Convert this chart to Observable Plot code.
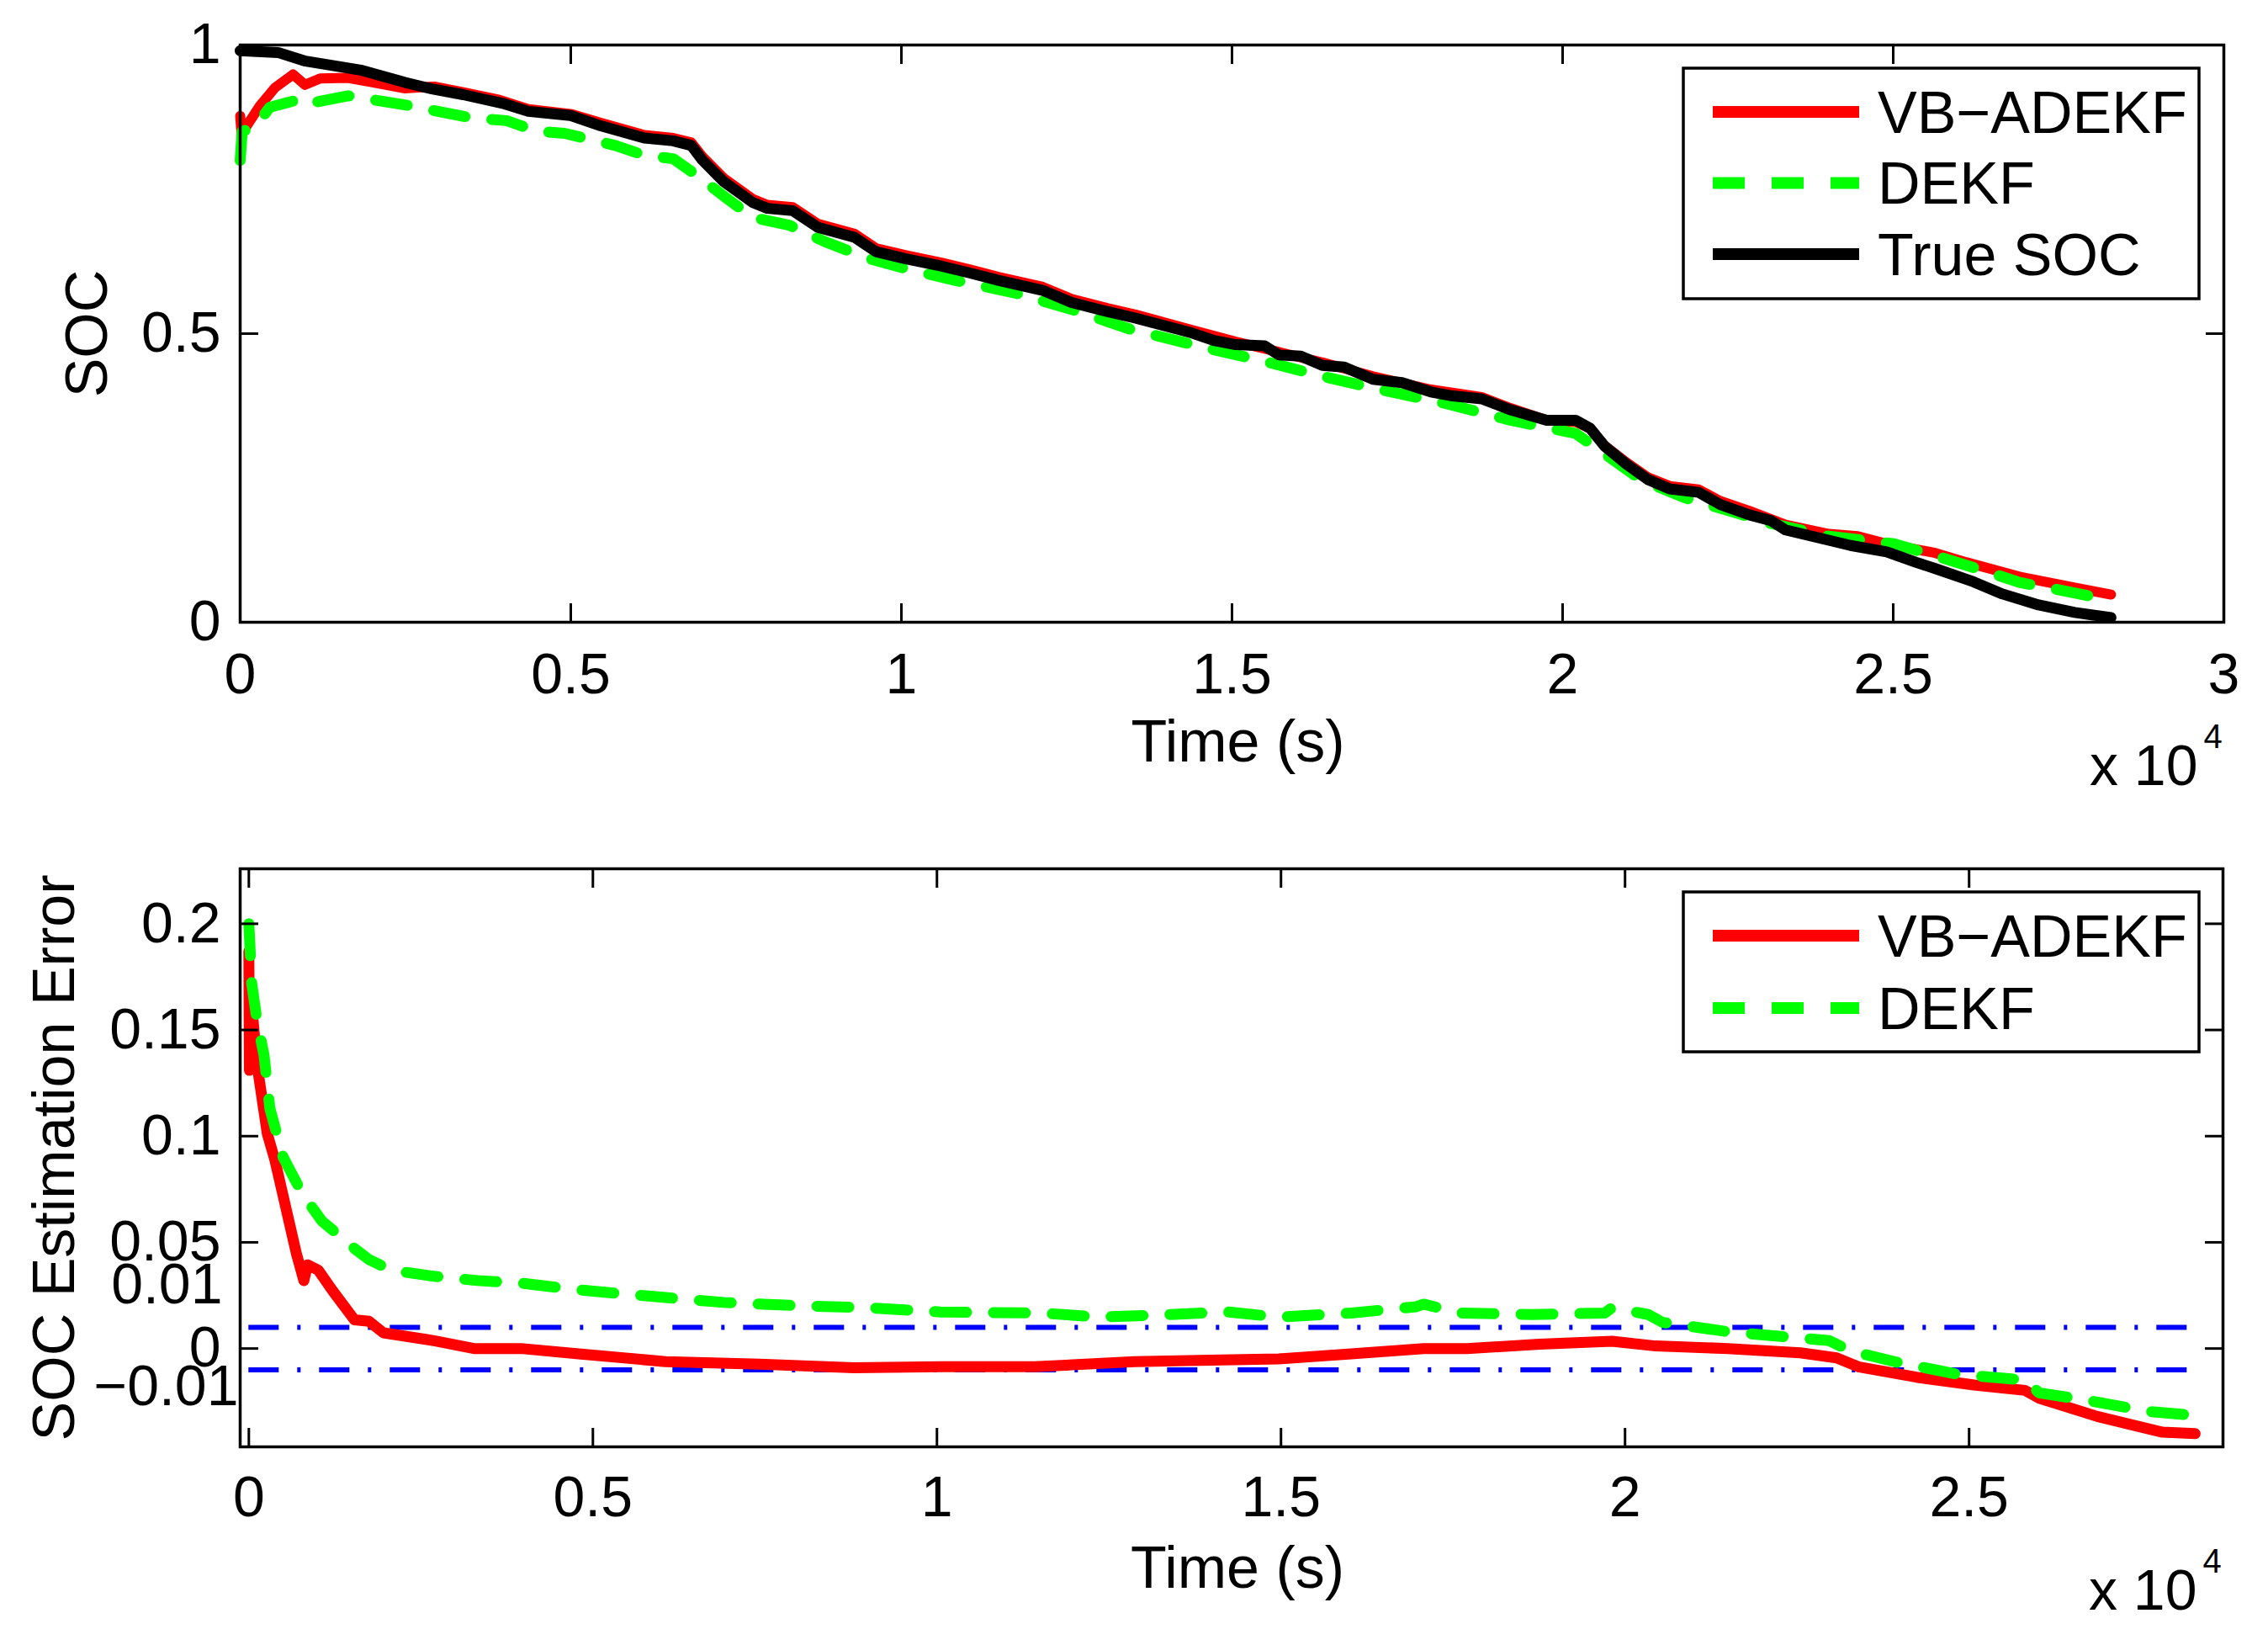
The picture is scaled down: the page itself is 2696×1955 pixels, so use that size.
<!DOCTYPE html>
<html><head><meta charset="utf-8">
<script src="https://cdn.jsdelivr.net/npm/d3@7"></script>
<script src="https://cdn.jsdelivr.net/npm/@observablehq/plot@0.6"></script>
<style>
html,body{margin:0;padding:0;background:#fff;overflow:hidden}
#c svg{display:block}
</style>
</head><body><div id="c"></div>
<script>
// ---------- data (time in s) ----------
const trueSOC = [[0,0.99],[573,0.987],[990,0.972],[1845,0.956],[2497,0.935],[2900,0.924],[3373,0.914],[3970,0.899],[4359,0.885],[4990,0.878],[5454,0.860],[6112,0.839],[6550,0.834],[6823,0.826],[6988,0.801],[7316,0.763],[7754,0.727],[7974,0.717],[8357,0.713],[8740,0.684],[9288,0.667],[9617,0.642],[10055,0.630],[10602,0.617],[11040,0.605],[11479,0.592],[12136,0.575],[12574,0.554],[13122,0.538],[13538,0.527],[14398,0.501],[14726,0.488],[15055,0.481],[15492,0.479],[15711,0.463],[16039,0.461],[16368,0.445],[16696,0.442],[17133,0.421],[17571,0.415],[18009,0.399],[18337,0.392],[18775,0.387],[19212,0.368],[19759,0.350],[20197,0.350],[20416,0.336],[20635,0.305],[20963,0.274],[21291,0.247],[21619,0.231],[22057,0.225],[22385,0.204],[22823,0.186],[23151,0.176],[23370,0.160],[23917,0.145],[24354,0.133],[24902,0.122],[25339,0.104],[25636,0.093],[26214,0.070],[26652,0.049],[27199,0.030],[27746,0.017],[28293,0.008]];

const vbSOC = [[0,0.877],[20,0.848],[100,0.860],[300,0.895],[526,0.926],[800,0.949],[980,0.931],[1210,0.942],[1630,0.943],[1970,0.936],[2480,0.925],[2935,0.928],[3373,0.918],[3920,0.905],[4359,0.889],[5016,0.880],[5454,0.865],[6112,0.844],[6550,0.839],[6823,0.831],[6988,0.807],[7316,0.769],[7754,0.733],[7974,0.723],[8357,0.719],[8740,0.690],[9288,0.673],[9617,0.648],[10055,0.636],[10602,0.623],[11040,0.611],[11479,0.598],[12136,0.581],[12574,0.560],[13122,0.544],[13538,0.533],[14398,0.506],[15055,0.486],[15711,0.468],[16368,0.450],[17133,0.426],[18009,0.403],[18775,0.390],[19212,0.371],[19759,0.350],[20197,0.347],[20416,0.336],[20635,0.306],[20963,0.277],[21291,0.251],[21619,0.236],[22057,0.230],[22385,0.210],[22823,0.193],[23370,0.169],[24026,0.153],[24464,0.149],[24902,0.136],[25636,0.120],[26100,0.104],[26908,0.079],[27746,0.060],[28293,0.048]];

const dekfSOC = [[0,0.800],[30,0.850],[230,0.859],[446,0.892],[870,0.905],[964,0.897],[1630,0.912],[2560,0.895],[2716,0.891],[3540,0.873],[4030,0.869],[4470,0.851],[4907,0.847],[5673,0.826],[6112,0.809],[6550,0.803],[6933,0.772],[7316,0.738],[7754,0.701],[8302,0.688],[8850,0.659],[9507,0.630],[10055,0.613],[10821,0.592],[11698,0.571],[12574,0.542],[13450,0.508],[14617,0.475],[15492,0.452],[16368,0.426],[17243,0.403],[18228,0.379],[19212,0.350],[20197,0.327],[20635,0.292],[21182,0.247],[21838,0.216],[22495,0.194],[23151,0.171],[24026,0.149],[25011,0.136],[25558,0.118],[26433,0.087],[26908,0.069],[27418,0.058],[28293,0.038]];

const vbErr = [[0,0.187],[8,0.131],[25,0.160],[60,0.155],[122,0.133],[269,0.101],[379,0.0887],[484,0.0739],[589,0.0591],[694,0.0443],[800,0.032],[852,0.0394],[1009,0.0369],[1220,0.0271],[1535,0.0135],[1746,0.0128],[1956,0.0074],[2692,0.0037],[3270,0],[3954,0],[4795,-0.0025],[6057,-0.0062],[7424,-0.0074],[8791,-0.0091],[10053,-0.0086],[11420,-0.0086],[12871,-0.0062],[14126,-0.0054],[14968,-0.0049],[16021,-0.0025],[17074,0],[17705,0],[18758,0.002],[19811,0.0034],[20442,0.0012],[21495,0],[22547,-0.002],[23074,-0.0044],[23389,-0.0086],[24232,-0.0135],[25074,-0.0172],[25811,-0.0197],[26021,-0.0234],[26863,-0.032],[27811,-0.0394],[28284,-0.0401]];

const dekfErr = [[0,0.200],[42,0.172],[116,0.155],[221,0.138],[306,0.113],[500,0.090],[782,0.0726],[1063,0.060],[1577,0.046],[1746,0.0419],[2061,0.0369],[2692,0.034],[3323,0.032],[3954,0.0308],[4795,0.0276],[5846,0.0246],[6898,0.0217],[7950,0.0202],[9001,0.0192],[10053,0.0172],[11525,0.0167],[12366,0.0148],[13389,0.016],[14232,0.0172],[14968,0.0148],[16021,0.0167],[16968,0.0197],[17074,0.0209],[17600,0.0167],[18653,0.016],[19705,0.0167],[19811,0.0192],[20337,0.016],[20547,0.0123],[21495,0.0079],[22547,0.0049],[22968,0.0037],[23284,-0.0012],[23916,-0.0062],[24863,-0.0123],[25811,-0.0148],[26021,-0.0209],[26758,-0.0246],[27600,-0.0296],[28284,-0.0315]];

const errBounds = [0.01, -0.01];
const xTicksTop = [0, 5000, 10000, 15000, 20000, 25000, 30000];
const xTicksBottom = [0, 5000, 10000, 15000, 20000, 25000];
const yTicksTop = [0, 0.5, 1];
const yTicksBottom = [0, 0.05, 0.1, 0.15, 0.2];
const boundLabelUpper = [{text: "0.01", y: 0.030}];
const boundLabelLower = [{text: "\u22120.01", y: -0.018}];
const legendTop = [{label: "VB\u2212ADEKF", color: "#ff0000", dash: null}, {label: "DEKF", color: "#00ff00", dash: "38,32"}, {label: "True SOC", color: "#000000", dash: null}];
const legendBottom = [{label: "VB\u2212ADEKF", color: "#ff0000", dash: null}, {label: "DEKF", color: "#00ff00", dash: "38,32"}];

const pts = a => a.map(([t, v]) => ({t, v}));
const FONT = "'Liberation Sans', Arial, Helvetica, sans-serif";
const FS = 68;
const LW = 13;

function legendMark(entries, box) {
  return () => {
    const g = d3.create("svg:g");
    g.append("rect").attr("x", box.x).attr("y", box.y).attr("width", box.w).attr("height", box.h)
      .attr("fill", "white").attr("stroke", "black").attr("stroke-width", 3.5);
    entries.forEach((e, i) => {
      const y = box.y + box.first + i * box.step;
      g.append("line").attr("x1", box.x + 35).attr("x2", box.x + 209).attr("y1", y).attr("y2", y)
        .attr("stroke", e.color).attr("stroke-width", 14).attr("stroke-dasharray", e.dash);
      g.append("text").attr("x", box.x + 231).attr("y", y).attr("dy", "0.35em")
        .attr("text-anchor", "start")
        .attr("font-size", 70).attr("font-family", FONT).attr("fill", "black").text(e.label);
    });
    return g.node();
  };
}

function frameTicks(xTicks, yTicks, yPad, xPad) {
  return [
    Plot.axisX({anchor: "bottom", ticks: xTicks, tickFormat: d => String(d / 1e4), tickSize: -22, tickPadding: xPad, strokeWidth: 3, label: null, fontSize: FS}),
    Plot.axisX({anchor: "top", ticks: xTicks, tickFormat: () => "", tickSize: -22, strokeWidth: 3, label: null}),
    Plot.axisY({anchor: "left", ticks: yTicks, tickFormat: d => String(d), tickSize: -22, tickPadding: yPad, strokeWidth: 3, label: null, fontSize: FS}),
    Plot.axisY({anchor: "right", ticks: yTicks, tickFormat: () => "", tickSize: -22, strokeWidth: 3, label: null})
  ];
}

function exponentMarks() {
  return [
    Plot.text(["x 10"], {frameAnchor: "bottom-right", dx: -31, dy: 172, textAnchor: "end", lineAnchor: "middle", fontSize: FS}),
    Plot.text(["4"], {frameAnchor: "bottom-right", dx: -24, dy: 137, textAnchor: "start", lineAnchor: "middle", fontSize: 40})
  ];
}

const topPlot = Plot.plot({
  width: 2696, height: 980,
  marginLeft: 285, marginRight: 53, marginTop: 53, marginBottom: 241,
  x: {domain: [0, 30000]},
  y: {domain: [0, 1]},
  style: {fontFamily: FONT, fontSize: FS + "px", background: "white", color: "black", overflow: "visible"},
  marks: [
    Plot.line(pts(vbSOC), {x: "t", y: "v", stroke: "#ff0000", strokeWidth: LW - 1}),
    Plot.line(pts(dekfSOC), {x: "t", y: "v", stroke: "#00ff00", strokeWidth: LW, strokeDasharray: "38,32"}),
    Plot.line(pts(trueSOC), {x: "t", y: "v", stroke: "#000000", strokeWidth: LW}),
    Plot.frame({stroke: "black", strokeWidth: 3.5}),
    ...frameTicks(xTicksTop, yTicksTop, 45, 58),
    Plot.text(["SOC"], {frameAnchor: "left", dx: -181, rotate: -90, textAnchor: "middle", fontSize: 70}),
    Plot.text(["Time (s)"], {frameAnchor: "bottom", dx: 7, dy: 116, lineAnchor: "top", textAnchor: "middle", fontSize: 70}),
    ...exponentMarks(),
    legendMark(legendTop, {x: 2001, y: 81, w: 613, h: 274, first: 52, step: 84.5})
  ]
});

const tEnd = vbErr[vbErr.length - 1][0];
const botPlot = Plot.plot({
  width: 2696, height: 975,
  marginLeft: 285, marginRight: 54, marginTop: 52, marginBottom: 236,
  x: {domain: [-126, 28690]},
  y: {domain: [-0.0463, 0.2259]},
  style: {fontFamily: FONT, fontSize: FS + "px", background: "white", color: "black", overflow: "visible"},
  marks: [
    Plot.ruleY(errBounds, {y: d => d, x1: 0, x2: tEnd, stroke: "#0000ff", strokeWidth: 6, strokeDasharray: "36,22,4,22"}),
    Plot.line(pts(vbErr), {x: "t", y: "v", stroke: "#ff0000", strokeWidth: LW}),
    Plot.line(pts(dekfErr), {x: "t", y: "v", stroke: "#00ff00", strokeWidth: LW, strokeDasharray: "38,32"}),
    Plot.frame({stroke: "black", strokeWidth: 3.5}),
    ...frameTicks(xTicksBottom, yTicksBottom, 45, 56),
    Plot.text(boundLabelUpper, {frameAnchor: "left", y: "y", text: "text", dx: -21, textAnchor: "end", fontSize: FS}),
    Plot.text(boundLabelLower, {frameAnchor: "left", y: "y", text: "text", dx: -2, textAnchor: "end", fontSize: FS}),
    Plot.text(["SOC Estimation Error"], {frameAnchor: "left", dx: -220, rotate: -90, textAnchor: "middle", fontSize: 70}),
    Plot.text(["Time (s)"], {frameAnchor: "bottom", dx: 7, dy: 118, lineAnchor: "top", textAnchor: "middle", fontSize: 70}),
    ...exponentMarks(),
    legendMark(legendBottom, {x: 2001, y: 80, w: 613, h: 190, first: 52, step: 86})
  ]
});

document.getElementById("c").append(topPlot, botPlot);
</script>
</body></html>
